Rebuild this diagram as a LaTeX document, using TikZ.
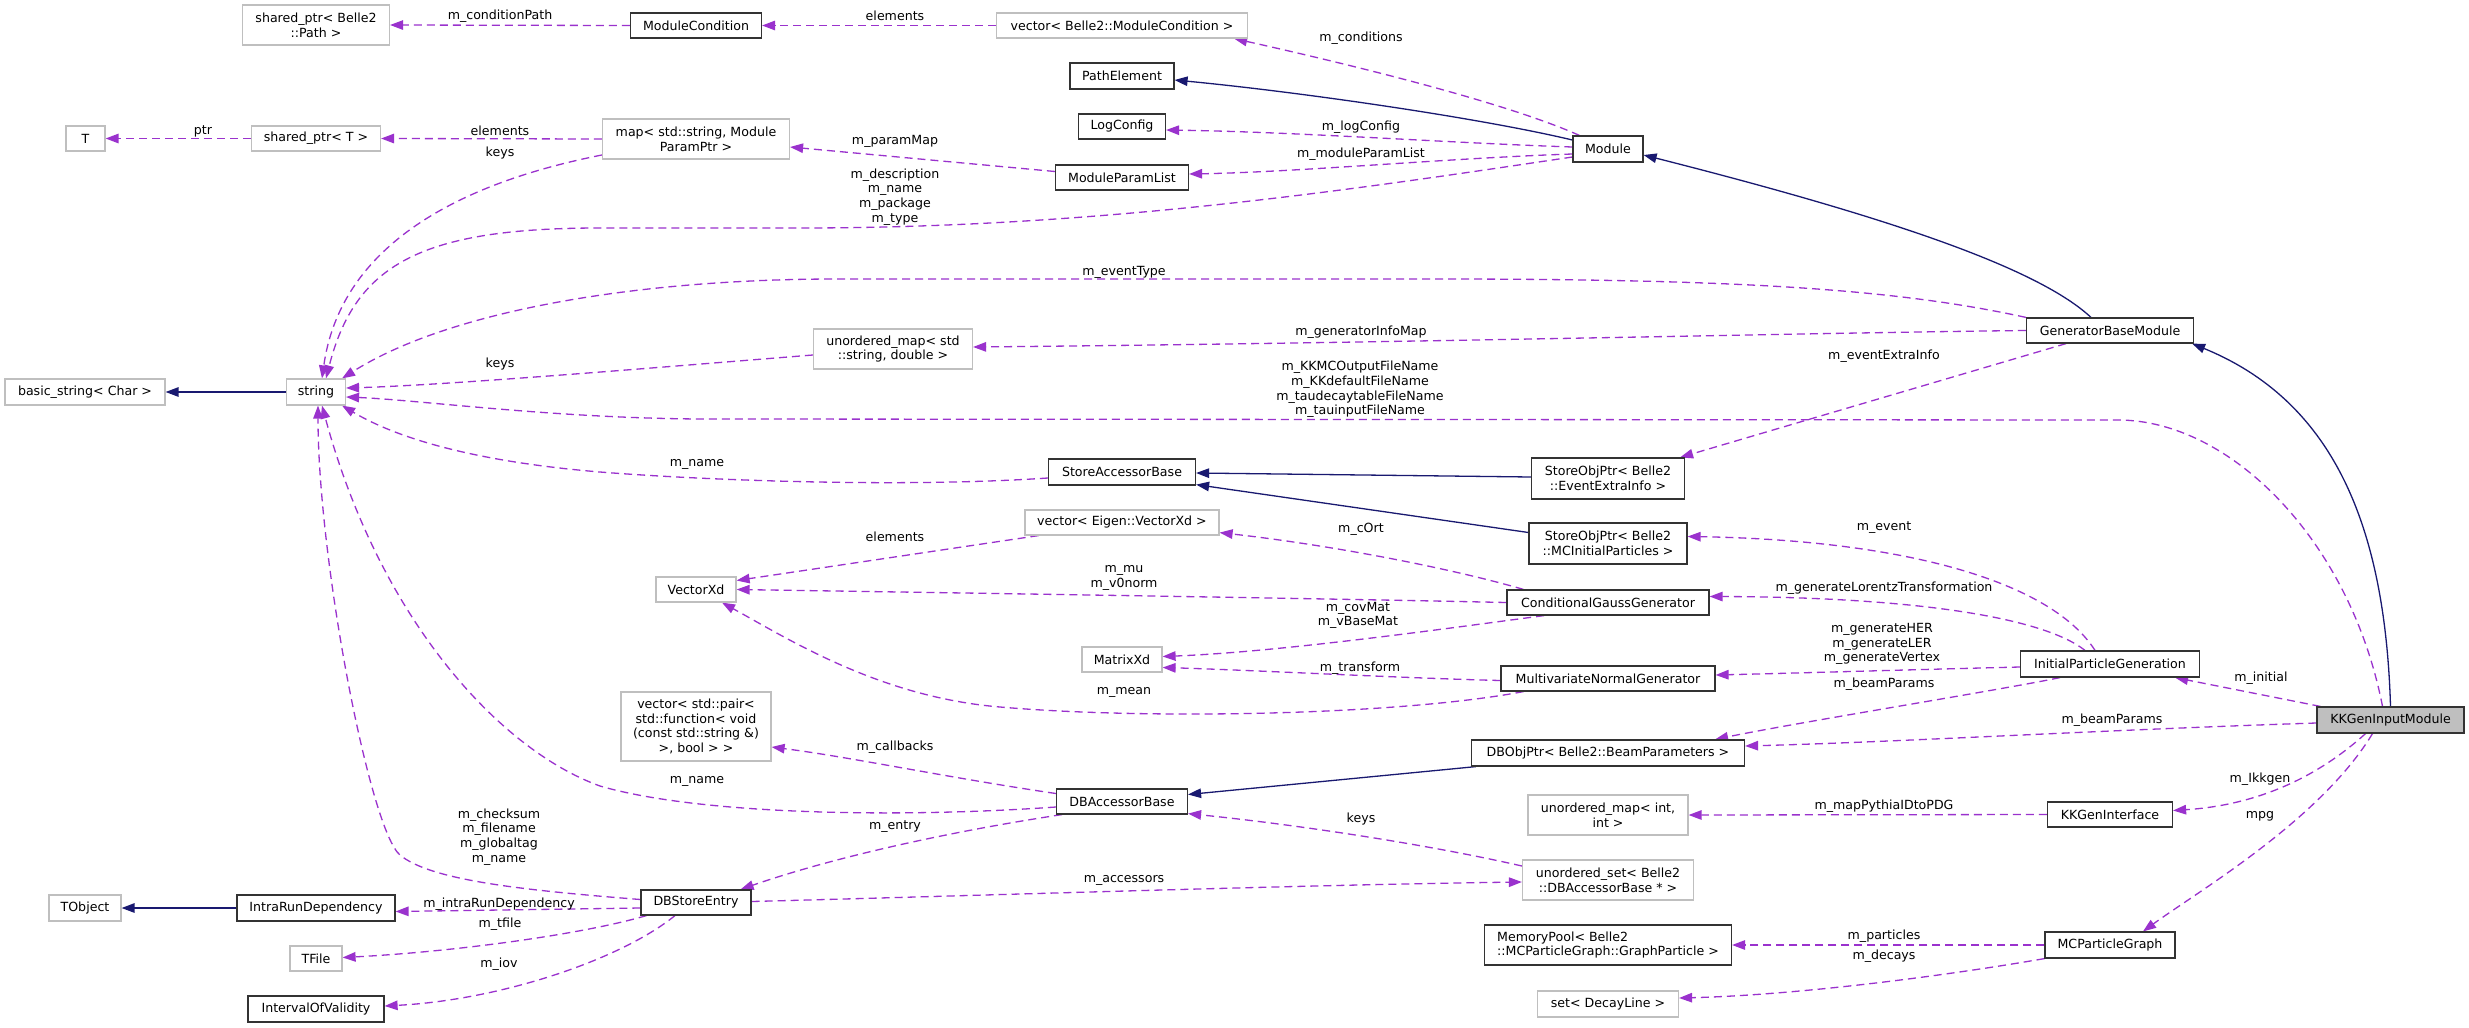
\documentclass[tikz,border=0pt]{standalone}
\usepackage{fontspec}
\setmainfont{DejaVu Sans}
\usetikzlibrary{arrows.meta}
\definecolor{dcol}{HTML}{9A32CD}
\definecolor{icol}{HTML}{191970}
\newcommand{\nf}{\fontsize{12.6}{14.7}\selectfont}
\pgfdeclarelayer{background}
\pgfsetlayers{background,main}
\tikzset{
  box/.style={draw=black!80, line width=1.2pt, fill=white, inner sep=0pt, align=center, font=\nf},
  gbox/.style={box, draw=black!25},
  dep/.style={draw=dcol, dash pattern=on 8pt off 5pt, line width=1.3pt, -{Triangle[length=13pt,width=9.5pt]}},
  inh/.style={draw=icol, line width=1.3pt, -{Triangle[length=13pt,width=9.5pt]}},
  lbl/.style={font=\nf, inner sep=0pt, align=center}
}
\begin{document}
\begin{tikzpicture}[x=1pt,y=-1pt]
\useasboundingbox (0,0) rectangle (2469,1028);
% nodes
\node[gbox, minimum width=147pt, minimum height=40pt] (spPath) at (316,25) {shared\_ptr< Belle2\\::Path >};
\node[gbox, minimum width=39pt, minimum height=25pt] (T) at (85.5,138.5) {T};
\node[gbox, minimum width=129pt, minimum height=25pt] (spT) at (316,138.5) {shared\_ptr< T >};
\node[box, minimum width=131pt, minimum height=25pt] (modCond) at (696,25.5) {ModuleCondition};
\node[gbox, minimum width=251pt, minimum height=25pt] (vecModCond) at (1122,25.5) {vector< Belle2::ModuleCondition >};
\node[box, minimum width=104pt, minimum height=26pt] (pathEl) at (1122,76) {PathElement};
\node[box, minimum width=87pt, minimum height=25pt] (logCfg) at (1122,126.5) {LogConfig};
\node[gbox, minimum width=187pt, minimum height=40pt] (mapMP) at (696,139) {map< std::string, Module\\ParamPtr >};
\node[box, minimum width=133pt, minimum height=25pt] (modPL) at (1122,177.5) {ModuleParamList};
\node[box, minimum width=70pt, minimum height=26pt] (module) at (1608,149) {Module};
\node[box, minimum width=167pt, minimum height=25pt] (genBase) at (2110,330.5) {GeneratorBaseModule};
\node[gbox, minimum width=59pt, minimum height=26pt] (str) at (316,392) {string};
\node[gbox, minimum width=160pt, minimum height=26pt] (bstr) at (85,392) {basic\_string< Char >};
\node[gbox, minimum width=159pt, minimum height=40pt] (umapStd) at (893,349) {unordered\_map< std\\::string, double >};
\node[box, minimum width=147pt, minimum height=26pt] (sab) at (1122,472) {StoreAccessorBase};
\node[box, minimum width=153pt, minimum height=41pt] (sopEEI) at (1608,478.5) {StoreObjPtr< Belle2\\::EventExtraInfo >};
\node[box, minimum width=158pt, minimum height=41pt] (sopMCIP) at (1608,543.5) {StoreObjPtr< Belle2\\::MCInitialParticles >};
\node[gbox, minimum width=194pt, minimum height=25pt] (vecEig) at (1122,522.5) {vector< Eigen::VectorXd >};
\node[gbox, minimum width=80pt, minimum height=25pt] (vecXd) at (696,589.5) {VectorXd};
\node[box, minimum width=202pt, minimum height=25pt] (cgg) at (1608,602.5) {ConditionalGaussGenerator};
\node[gbox, minimum width=80pt, minimum height=25pt] (matXd) at (1122,659.5) {MatrixXd};
\node[box, minimum width=214pt, minimum height=25pt] (mng) at (1608,678.5) {MultivariateNormalGenerator};
\node[box, minimum width=179pt, minimum height=26pt] (ipg) at (2110,664) {InitialParticleGeneration};
\node[box, fill=black!25, minimum width=147pt, minimum height=26pt] (kkin) at (2390.5,720) {KKGenInputModule};
\node[box, minimum width=273pt, minimum height=26pt] (dbop) at (1608,753) {DBObjPtr< Belle2::BeamParameters >};
\node[gbox, minimum width=150pt, minimum height=69pt] (vecPair) at (696,726.5) {vector< std::pair<\\ std::function< void\\(const std::string \&)\\>, bool > >};
\node[box, minimum width=131pt, minimum height=25pt] (dba) at (1122,801.5) {DBAccessorBase};
\node[gbox, minimum width=160pt, minimum height=40pt] (umapInt) at (1608,815) {unordered\_map< int,\\int >};
\node[box, minimum width=125pt, minimum height=25pt] (kkgi) at (2110,814.5) {KKGenInterface};
\node[box, minimum width=110pt, minimum height=25pt] (dbse) at (696,902.5) {DBStoreEntry};
\node[gbox, minimum width=171pt, minimum height=40pt] (uset) at (1608,880) {unordered\_set< Belle2\\::DBAccessorBase * >};
\node[gbox, minimum width=72pt, minimum height=26pt] (tobj) at (85,908) {TObject};
\node[box, minimum width=158pt, minimum height=26pt] (ird) at (316,908) {IntraRunDependency};
\node[gbox, minimum width=52pt, minimum height=25pt] (tfile) at (316,958.5) {TFile};
\node[box, minimum width=136pt, minimum height=26pt] (iov) at (316,1009) {IntervalOfValidity};
\node[box, align=left, minimum width=247pt, minimum height=40pt] (mpool) at (1608,945) {MemoryPool< Belle2\\::MCParticleGraph::GraphParticle >};
\node[box, minimum width=130pt, minimum height=26pt] (mcpg) at (2110,945) {MCParticleGraph};
\node[gbox, minimum width=141pt, minimum height=26pt] (setDL) at (1608,1004) {set< DecayLine >};
% labels
\node[lbl] (l01) at (500,16) {m\_conditionPath};
\node[lbl] (l02) at (895,16) {elements};
\node[lbl] (l03) at (1361,38) {m\_conditions};
\node[lbl] (l04) at (203,131) {ptr};
\node[lbl] (l05) at (500,131) {elements};
\node[lbl] (l06) at (500,153) {keys};
\node[lbl] (l07) at (895,141) {m\_paramMap};
\node[lbl] (l08) at (1361,127) {m\_logConfig};
\node[lbl] (l09) at (1361,154) {m\_moduleParamList};
\node[lbl] (l10) at (895,197) {m\_description\\m\_name\\m\_package\\m\_type};
\node[lbl] (l11) at (1124,272) {m\_eventType};
\node[lbl] (l12) at (500,364) {keys};
\node[lbl] (l13) at (1361,332) {m\_generatorInfoMap};
\node[lbl] (l14) at (1884,356) {m\_eventExtraInfo};
\node[lbl] (l15) at (1360,389.5) {m\_KKMCOutputFileName\\m\_KKdefaultFileName\\m\_taudecaytableFileName\\m\_tauinputFileName};
\node[lbl] (l16) at (697,464) {m\_name};
\node[lbl] (l17) at (1884,528) {m\_event};
\node[lbl] (l18) at (895,537) {elements};
\node[lbl] (l19) at (1361,529) {m\_cOrt};
\node[lbl] (l20) at (1124,578) {m\_mu\\m\_v0norm};
\node[lbl] (l21) at (1884,588) {m\_generateLorentzTransformation};
\node[lbl] (l22) at (1358,615.5) {m\_covMat\\m\_vBaseMat};
\node[lbl] (l23) at (1882,644) {m\_generateHER\\m\_generateLER\\m\_generateVertex};
\node[lbl] (l24) at (1360,668) {m\_transform};
\node[lbl] (l25) at (2261,678) {m\_initial};
\node[lbl] (l26) at (1884,684) {m\_beamParams};
\node[lbl] (l27) at (1124,692) {m\_mean};
\node[lbl] (l28) at (2112,720) {m\_beamParams};
\node[lbl] (l29) at (895,747) {m\_callbacks};
\node[lbl] (l30) at (2260,779) {m\_Ikkgen};
\node[lbl] (l31) at (697,781) {m\_name};
\node[lbl] (l32) at (1884,806) {m\_mapPythiaIDtoPDG};
\node[lbl] (l33) at (2260,816) {mpg};
\node[lbl] (l34) at (1361,819) {keys};
\node[lbl] (l35) at (895,827) {m\_entry};
\node[lbl] (l36) at (499,837) {m\_checksum\\m\_filename\\m\_globaltag\\m\_name};
\node[lbl] (l37) at (1124,880) {m\_accessors};
\node[lbl] (l38) at (499,904) {m\_intraRunDependency};
\node[lbl] (l39) at (500,924) {m\_tfile};
\node[lbl] (l40) at (1884,936) {m\_particles};
\node[lbl] (l41) at (1884,956) {m\_decays};
\node[lbl] (l42) at (499,964) {m\_iov};
% edges
\begin{pgfonlayer}{background}
\fill[white] (0,0) rectangle (2469,1028);
\draw[dep] (modCond.west) -- (spPath.east);
\draw[dep] (vecModCond.west) -- (modCond.east);
\draw[dep] ([xshift=7pt]module.north west) .. controls (1500,100) and (1330,60) .. ([xshift=-14pt]vecModCond.south east);
\draw[inh] ([yshift=9pt]module.west) .. controls (1480,118) and (1300,92) .. ([yshift=-4pt]pathEl.east);
\draw[dep] ([yshift=2pt]module.west) .. controls (1450,143) and (1300,132) .. ([yshift=-3.5pt]logCfg.east);
\draw[dep] ([yshift=-5pt]module.west) .. controls (1450,158) and (1300,172) .. ([yshift=3.5pt]modPL.east);
\draw[dep] ([yshift=-8pt]module.west) .. controls (1350,190) and (1100,228) .. (800,228) -- (600,228) .. controls (420,228) and (355,265) .. ([xshift=10pt]str.north);
\draw[dep] (mapMP.west) -- (spT.east);
\draw[dep] ([yshift=-16pt]mapMP.west) .. controls (450,185) and (340,250) .. ([xshift=6pt]str.north);
\draw[dep] (spT.west) -- (T.east);
\draw[dep] ([yshift=6pt]modPL.west) -- ([yshift=-8pt]mapMP.east);
\draw[inh] ([xshift=-19pt]genBase.north) .. controls (2040,270) and (1900,220) .. ([yshift=-6pt]module.east);
\draw[dep] (genBase.north west) .. controls (1900,290) and (1750,279) .. (1437,279) -- (837,279) .. controls (640,279) and (450,310) .. ([xshift=-4pt]str.north east);
\draw[dep] (genBase.west) .. controls (1800,333) and (1400,343) .. ([yshift=2pt]umapStd.east);
\draw[dep] ([xshift=-44pt]genBase.south) -- ([xshift=-5pt]sopEEI.north east);
\draw[inh] (kkin.north) .. controls (2385,520) and (2330,400) .. ([xshift=-2pt]genBase.south east);
\draw[inh] ([yshift=1.5pt]sopEEI.west) -- ([yshift=-1pt]sab.east);
\draw[inh] ([yshift=11pt]sopMCIP.west) -- ([yshift=1pt]sab.south east);
\draw[dep] ([yshift=-6pt]sab.west) .. controls (900,488) and (700,480) .. (600,472) .. controls (480,462) and (400,440) .. ([xshift=-4pt]str.south east);
\draw[dep] ([xshift=-8pt]kkin.north) .. controls (2350,540) and (2230,420) .. (2118,420) -- (700,419) .. controls (550,418) and (420,400) .. ([yshift=-5pt]str.east);
\draw[dep] ([yshift=-6pt]umapStd.west) .. controls (650,368) and (450,385) .. ([yshift=4pt]str.east);
\draw[dep] ([xshift=4pt]kkin.north west) -- ([xshift=-25pt]ipg.south east);
\draw[dep] ([yshift=-3pt]kkin.west) .. controls (2100,730) and (1900,742) .. ([yshift=7pt]dbop.east);
\draw[dep] ([xshift=-50pt]ipg.south) .. controls (2000,690) and (1800,722) .. ([xshift=-30pt]dbop.north east);
\draw[dep] ([xshift=-15pt]ipg.north) .. controls (2050,580) and (1900,540) .. ([yshift=7pt]sopMCIP.east);
\draw[dep] ([xshift=-25pt]ipg.north) .. controls (2040,615) and (1900,597) .. ([yshift=6pt]cgg.east);
\draw[dep] ([yshift=-3pt]ipg.west) .. controls (1900,670) and (1800,673) .. ([yshift=3.5pt]mng.east);
\draw[dep] ([xshift=-25pt]kkin.south) .. controls (2320,775) and (2260,805) .. ([yshift=4pt]kkgi.east);
\draw[dep] ([xshift=-18pt]kkin.south) .. controls (2320,820) and (2200,890) .. ([xshift=33pt]mcpg.north);
\draw[dep] (kkgi.west) -- (umapInt.east);
\draw[dep] (mcpg.west) -- (mpool.east);
\draw[dep] (mcpg.south west) .. controls (1950,975) and (1800,995) .. ([yshift=6pt]setDL.east);
\draw[dep] ([xshift=17pt]cgg.north west) .. controls (1450,568) and (1330,545) .. ([yshift=3pt]vecEig.south east);
\draw[dep] (cgg.west) .. controls (1300,598) and (900,592) .. (vecXd.east);
\draw[dep] ([xshift=-64pt]cgg.south) .. controls (1450,628) and (1280,652) .. ([yshift=3pt]matXd.east);
\draw[dep] ([yshift=-2pt]mng.west) .. controls (1400,678) and (1250,670) .. ([yshift=-8pt]matXd.east);
\draw[dep] ([xshift=23pt]mng.south west) .. controls (1400,715) and (1150,720) .. (1000,707) .. controls (880,697) and (790,640) .. ([xshift=26pt]vecXd.south);
\draw[dep] ([xshift=14pt]vecEig.south west) -- ([yshift=9pt]vecXd.east);
\draw[inh] ([xshift=5pt]dbop.south west) -- ([yshift=7pt]dba.east);
\draw[dep] ([yshift=8pt]dba.west) .. controls (950,778) and (850,757) .. ([yshift=-20.5pt]vecPair.east);
\draw[dep] ([yshift=-5.5pt]dba.west) .. controls (900,818) and (700,815) .. (600,786) .. controls (500,750) and (380,620) .. ([xshift=6pt]str.south);
\draw[dep] ([xshift=6pt]dba.south west) .. controls (960,830) and (840,855) .. ([xshift=-11pt]dbse.north east);
\draw[dep] ([yshift=3pt]dbse.west) .. controls (520,890) and (430,880) .. (400,855) .. controls (370,830) and (318,560) .. ([xshift=2pt]str.south);
\draw[dep] ([yshift=-5.5pt]dbse.west) -- ([yshift=-3.5pt]ird.east);
\draw[dep] ([xshift=6pt]dbse.south west) .. controls (580,935) and (450,952) .. ([yshift=1pt]tfile.east);
\draw[dep] ([xshift=-21pt]dbse.south) .. controls (620,960) and (500,1000) .. ([yshift=3pt]iov.east);
\draw[inh] (ird.west) -- (tobj.east);
\draw[inh] (str.west) -- (bstr.east);
\draw[dep] ([yshift=1pt]dbse.east) .. controls (1000,895) and (1300,885) .. ([yshift=-2pt]uset.west);
\draw[dep] ([yshift=14pt]uset.west) .. controls (1430,845) and (1300,825) .. ([yshift=1pt]dba.south east);
\end{pgfonlayer}
\end{tikzpicture}
\end{document}
